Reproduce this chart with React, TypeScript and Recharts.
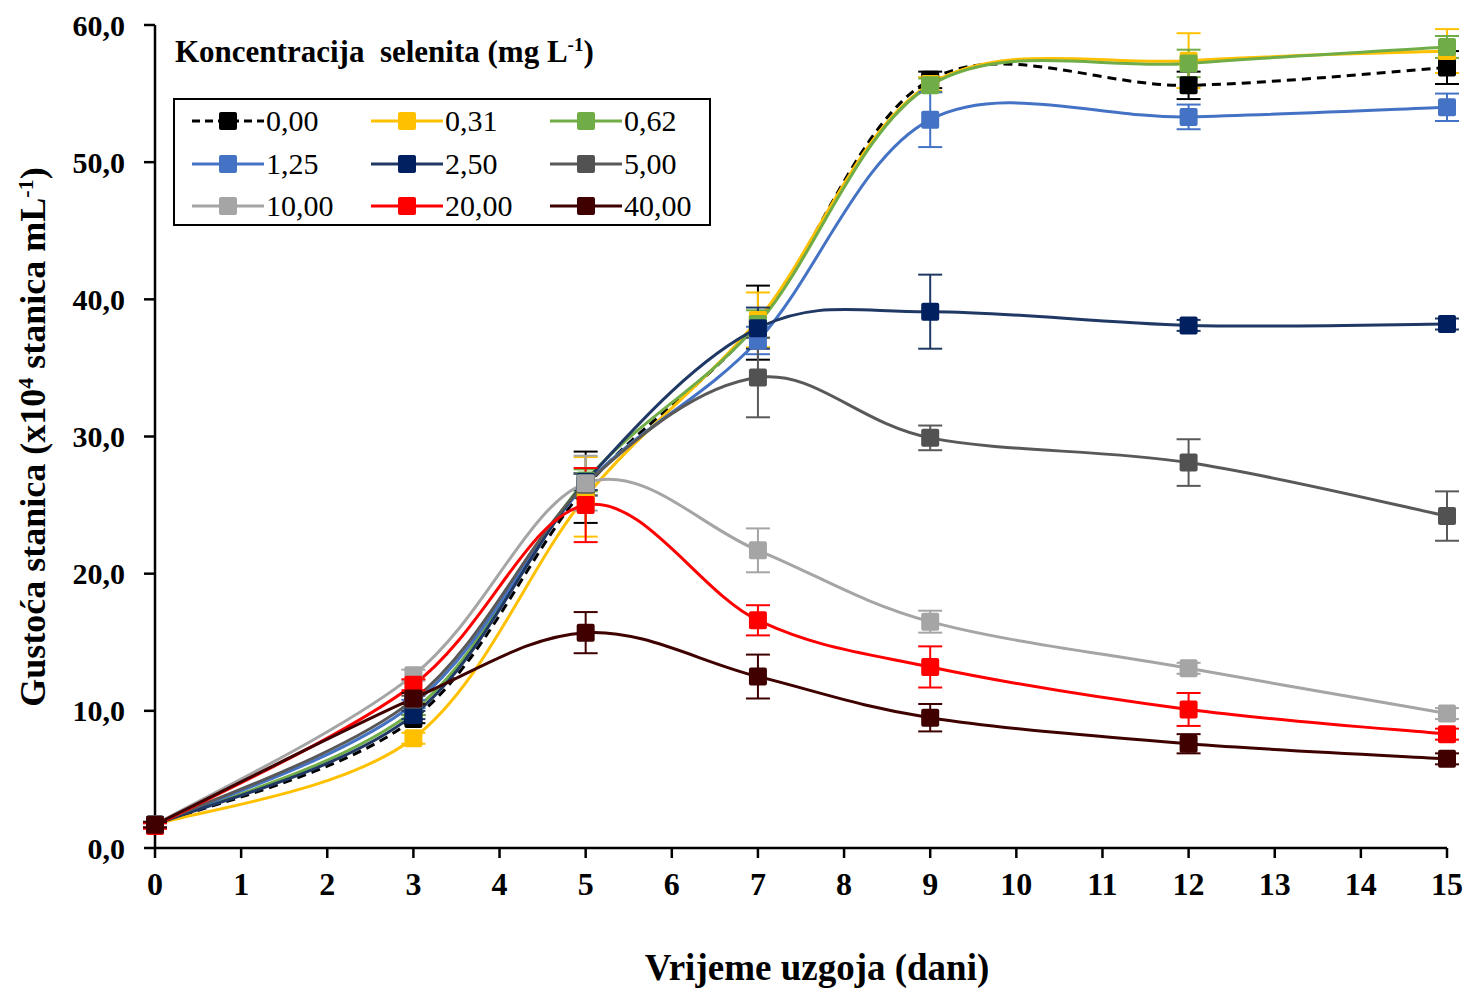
import React from 'react';
import { LineChart, Line, XAxis, YAxis, ErrorBar } from 'recharts';

const days = [0, 3, 5, 7, 9, 12, 15];
const xTicks = [0, 1, 2, 3, 4, 5, 6, 7, 8, 9, 10, 11, 12, 13, 14, 15];
const yTicks = [0, 10, 20, 30, 40, 50, 60];

const seriesNames = ['0,00', '0,31', '0,62', '1,25', '2,50', '5,00', '10,00', '20,00', '40,00'];
const lineColors = ['#000000', '#FFC000', '#70AD47', '#4472C4', '#1F3864', '#595959', '#A5A5A5', '#FF0000', '#3F0000'];
const markerColors = ['#000000', '#FFC000', '#70AD47', '#4472C4', '#002060', '#525252', '#A5A5A5', '#FF0000', '#400000'];

// mean cell density per concentration
const c0_00 = [1.7, 9.4, 26.3, 38.3, 56.0, 55.6, 56.9];
const c0_31 = [1.7, 8.0, 25.6, 38.5, 55.7, 57.4, 58.1];
const c0_62 = [1.7, 10.0, 26.8, 38.2, 55.6, 57.2, 58.4];
const c1_25 = [1.7, 10.5, 26.5, 37.0, 53.1, 53.3, 54.0];
const c2_50 = [1.7, 9.7, 26.7, 37.9, 39.1, 38.1, 38.2];
const c5_00 = [1.7, 10.8, 26.5, 34.3, 29.9, 28.1, 24.2];
const c10_00 = [1.7, 12.6, 26.6, 21.7, 16.5, 13.1, 9.8];
const c20_00 = [1.6, 11.9, 25.0, 16.6, 13.2, 10.1, 8.3];
const c40_00 = [1.7, 10.9, 15.7, 12.5, 9.5, 7.6, 6.5];

// standard deviations
const e0_00 = [0.2, 0.3, 2.6, 2.7, 0.6, 1.0, 1.2];
const e0_31 = [0.2, 0.4, 2.9, 2.0, 0.5, 2.0, 1.6];
const e0_62 = [0.2, 0.3, 0.8, 1.0, 0.5, 1.0, 0.8];
const e1_25 = [0.2, 0.3, 0.8, 1.0, 2.0, 0.9, 1.0];
const e2_50 = [0.2, 0.3, 0.6, 1.5, 2.7, 0.4, 0.4];
const e5_00 = [0.2, 0.3, 0.8, 2.9, 0.9, 1.7, 1.8];
const e10_00 = [0.2, 0.4, 2.0, 1.6, 0.8, 0.4, 0.4];
const e20_00 = [0.2, 0.4, 2.7, 1.1, 1.5, 1.2, 0.4];
const e40_00 = [0.2, 0.4, 1.5, 1.6, 1.0, 0.7, 0.4];

const values = [c0_00, c0_31, c0_62, c1_25, c2_50, c5_00, c10_00, c20_00, c40_00];
const errors = [e0_00, e0_31, e0_62, e1_25, e2_50, e5_00, e10_00, e20_00, e40_00];

const chartData = days.map((day, i) => {
  const row: Record<string, number> = { day };
  values.forEach((v, s) => {
    row[`s${s}`] = v[i];
    row[`e${s}`] = errors[s][i];
  });
  return row;
});

const SERIF = '"Liberation Serif", "Times New Roman", serif';

// Excel-style smoothing (Catmull-Rom as cubic bezier)
const excelSmooth = (context: any) => {
  let pts: number[][] = [];
  return {
    areaStart() {},
    areaEnd() {},
    lineStart() {
      pts = [];
    },
    point(x: number, y: number) {
      pts.push([+x, +y]);
    },
    lineEnd() {
      const n = pts.length;
      if (!n) return;
      context.moveTo(pts[0][0], pts[0][1]);
      for (let i = 0; i < n - 1; i++) {
        const p0 = pts[Math.max(i - 1, 0)];
        const p1 = pts[i];
        const p2 = pts[i + 1];
        const p3 = pts[Math.min(i + 2, n - 1)];
        context.bezierCurveTo(
          p1[0] + (p2[0] - p0[0]) / 6,
          p1[1] + (p2[1] - p0[1]) / 6,
          p2[0] - (p3[0] - p1[0]) / 6,
          p2[1] - (p3[1] - p1[1]) / 6,
          p2[0],
          p2[1]
        );
      }
    },
  };
};

const squareDot = (color: string) => (props: any) => {
  const { cx, cy, index } = props;
  if (cx == null || cy == null) return <g key={index} />;
  return <rect key={index} x={cx - 9} y={cy - 9} width={18} height={18} rx={2} fill={color} />;
};

function YTitle() {
  return (
    <text
      transform='translate(45, 437) rotate(-90)'
      textAnchor='middle'
      fontFamily={SERIF}
      fontWeight='bold'
      fontSize={36}
      fill='#000'
    >
      Gustoća stanica (x10
      <tspan baselineShift='super' fontSize={22}>4</tspan>
      <tspan> stanica mL</tspan>
      <tspan baselineShift='super' fontSize={22}>-1</tspan>
      <tspan>)</tspan>
    </text>
  );
}

function Legend() {
  return (
    <div
      style={{
        position: 'absolute',
        left: 173,
        top: 98,
        width: 534,
        height: 124,
        border: '2px solid #000',
        background: '#fff',
        fontFamily: SERIF,
        fontSize: 30,
      }}
    >
      {seriesNames.map((name, i) => {
        const col = i % 3;
        const row = Math.floor(i / 3);
        return (
          <div
            key={name}
            style={{
              position: 'absolute',
              left: 15 + col * 179,
              top: 21 + row * 42.5 - 18,
              height: 36,
              display: 'flex',
              alignItems: 'center',
            }}
          >
            <svg width={76} height={24}>
              <line
                x1={2}
                y1={12}
                x2={74}
                y2={12}
                stroke={lineColors[i]}
                strokeWidth={3}
                strokeDasharray={i === 0 ? '8 5' : undefined}
              />
              <rect x={29} y={3} width={18} height={18} rx={2} fill={markerColors[i]} />
            </svg>
            <span style={{ lineHeight: '36px' }}>{name}</span>
          </div>
        );
      })}
    </div>
  );
}

export default function App() {
  return (
    <div style={{ position: 'absolute', left: 0, top: 0, width: 1470, height: 992, background: '#fff' }}>
      <LineChart width={1470} height={992} data={chartData} margin={{ top: 25, right: 23, left: 25, bottom: 94 }}>
        <XAxis
          type='number'
          dataKey='day'
          domain={[0, 15]}
          ticks={xTicks}
          interval={0}
          tickSize={10}
          tickMargin={14}
          height={50}
          axisLine={{ stroke: '#000', strokeWidth: 2.5 }}
          tickLine={{ stroke: '#000', strokeWidth: 2.5 }}
          tick={{ fill: '#000', fontFamily: SERIF, fontWeight: 'bold', fontSize: 32 }}
          label={{
            value: 'Vrijeme uzgoja  (dani)',
            position: 'insideBottom',
            offset: -82,
            dx: 16,
            style: { fill: '#000', fontFamily: SERIF, fontWeight: 'bold', fontSize: 37, whiteSpace: 'pre' },
          }}
        />
        <YAxis
          type='number'
          domain={[0, 60]}
          ticks={yTicks}
          interval={0}
          width={130}
          tickSize={11}
          tickMargin={19}
          axisLine={{ stroke: '#000', strokeWidth: 2.5 }}
          tickLine={{ stroke: '#000', strokeWidth: 2.5 }}
          tickFormatter={(v: number) => v.toFixed(1).replace('.', ',')}
          tick={{ fill: '#000', fontFamily: SERIF, fontWeight: 'bold', fontSize: 30 }}
          label={{ content: () => <YTitle /> }}
        />
        {seriesNames.map((name, s) => (
          <Line
            key={name}
            name={name}
            dataKey={`s${s}`}
            type={excelSmooth as any}
            stroke={lineColors[s]}
            strokeWidth={3}
            strokeDasharray={s === 0 ? '9 6' : undefined}
            dot={squareDot(markerColors[s])}
            activeDot={false}
            isAnimationActive={false}
          >
            <ErrorBar dataKey={`e${s}`} width={12} stroke={lineColors[s]} strokeWidth={2} direction='y' />
          </Line>
        ))}
      </LineChart>
      <div
        style={{
          position: 'absolute',
          left: 175,
          top: 35,
          fontFamily: SERIF,
          fontWeight: 'bold',
          fontSize: 31,
          whiteSpace: 'pre',
          lineHeight: '34px',
        }}
      >
        Koncentracija  selenita (mg L<sup style={{ fontSize: 19, verticalAlign: '0.6em', lineHeight: 0 }}>-1</sup>)
      </div>
      <Legend />
    </div>
  );
}
